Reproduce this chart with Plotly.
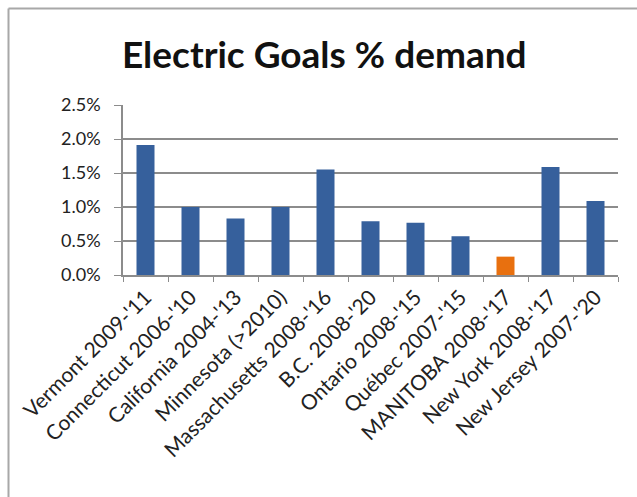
import plotly.graph_objects as go

# Electricity efficiency goals, as annual % of demand
regions = [
    "Vermont 2009-'11", "Connecticut 2006-'10", "California 2004-'13",
    "Minnesota (>2010)", "Massachusetts 2008-'16", "B.C. 2008-'20",
    "Ontario 2008-'15", "Québec 2007-'15", "MANITOBA 2008-'17",
    "New York 2008-'17", "New Jersey 2007-'20",
]
goal_pct = [0.0191, 0.0100, 0.0083, 0.0100, 0.0155, 0.0079,
            0.0077, 0.0057, 0.0027, 0.0159, 0.0109]
highlight = "MANITOBA 2008-'17"

y_ticks = [0.0, 0.005, 0.010, 0.015, 0.020, 0.025]
y_tick_text = ["0.0%", "0.5%", "1.0%", "1.5%", "2.0%", "2.5%"]

BLUE = "#36609C"
ORANGE = "#E8700F"
bar_colors = [ORANGE if r == highlight else BLUE for r in regions]

W, H = 637, 497
ML, MR, MT, MB = 123, 19, 105, 222
pw, ph = W - ML - MR, H - MT - MB

fig = go.Figure(go.Bar(x=regions, y=goal_pct, marker=dict(color=bar_colors, line_width=0)))

font = "Lato, Carlito, 'Open Sans', sans-serif"

# outer frame: top and left edges
fx = (8.5 - ML) / pw
fy = 1 + (MT - 8.5) / ph
fb = -(H - MT - ph) / ph
frame = [
    dict(type="line", xref="paper", yref="paper", x0=fx, x1=(W - ML) / pw + 0.05,
         y0=fy, y1=fy, line=dict(color="#A8A8A8", width=2)),
    dict(type="line", xref="paper", yref="paper", x0=fx, x1=fx,
         y0=fy, y1=fb - 0.05, line=dict(color="#A8A8A8", width=2)),
]

fig.update_layout(
    width=W, height=H,
    margin=dict(l=ML, r=MR, t=MT, b=MB),
    paper_bgcolor="white", plot_bgcolor="white",
    bargap=0.6,
    showlegend=False,
    shapes=frame,
    title=dict(text="<b>Electric Goals % demand</b>", x=0.509, xanchor="center",
               y=1 - 55 / H, yanchor="middle", yref="container",
               font=dict(family=font, size=37, color="#111111")),
    xaxis=dict(
        tickangle=-45, tickfont=dict(family=font, size=21, color="#222222"),
        showline=True, linecolor="#8C8C8C", linewidth=1.5,
        ticks="outside", tickson="boundaries", ticklen=5, tickcolor="#8C8C8C",
        showgrid=False, automargin=False,
    ),
    yaxis=dict(
        range=[0, 0.025], tickvals=y_ticks, ticktext=y_tick_text,
        tickfont=dict(family=font, size=18, color="#222222"),
        showgrid=True, gridcolor="#8C8C8C", gridwidth=1.5,
        showline=True, linecolor="#8C8C8C", linewidth=1.5,
        ticks="outside", ticklen=7, tickcolor="#8C8C8C",
        ticklabelstandoff=10, zeroline=False, automargin=False,
    ),
)

fig.write_html("out.html")
